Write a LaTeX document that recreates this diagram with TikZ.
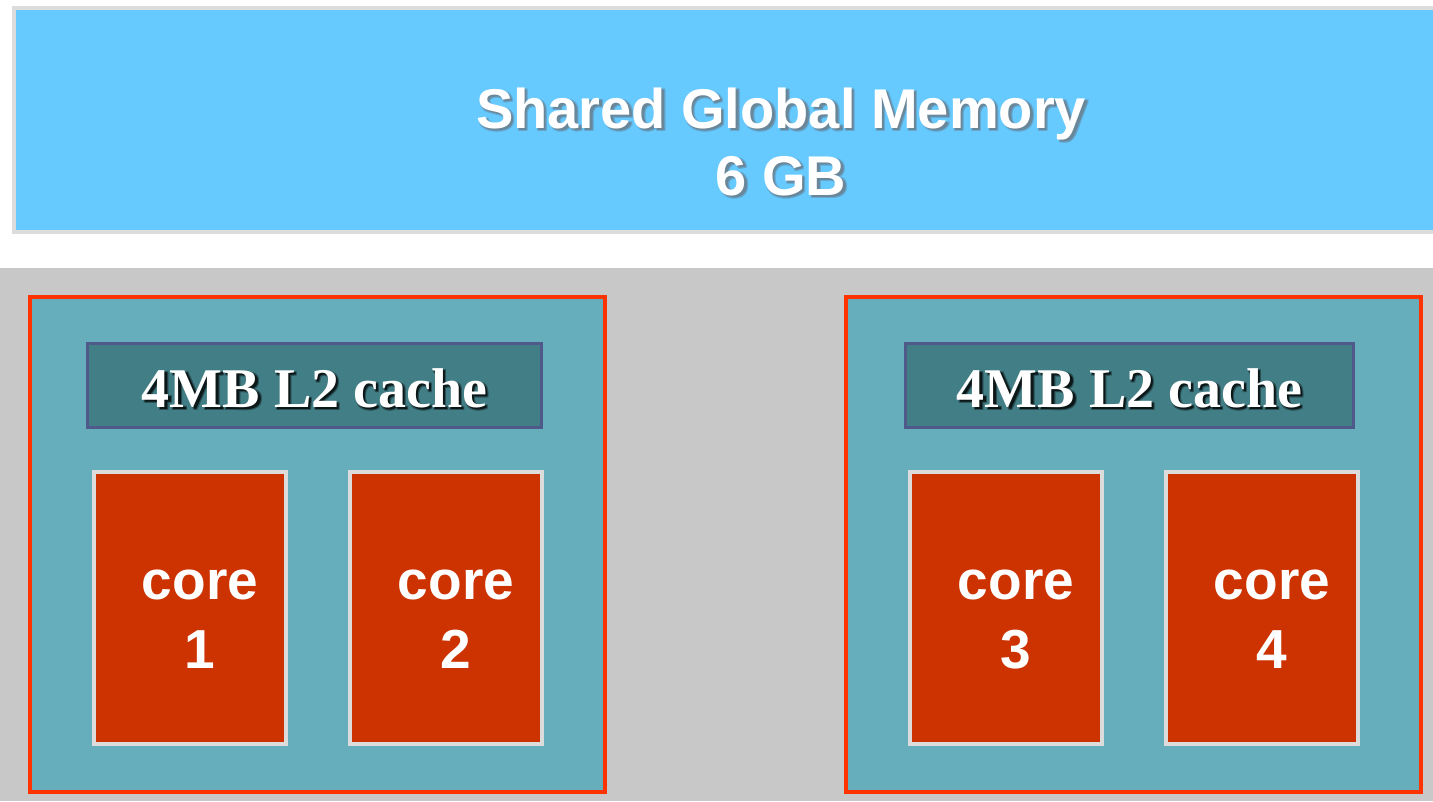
\documentclass[tikz,border=0pt]{standalone}
\usepackage{fontspec}
\setmainfont{Liberation Serif}
\setsansfont{Liberation Sans}
\usetikzlibrary{calc}

\definecolor{memfill}{HTML}{66CAFF}
\definecolor{paleedge}{HTML}{DCDCDC}
\definecolor{boardgray}{HTML}{C8C8C8}
\definecolor{chipteal}{HTML}{66AEBC}
\definecolor{chipedge}{HTML}{FF3300}
\definecolor{cachefill}{HTML}{427E85}
\definecolor{cacheedge}{HTML}{4F5A8A}
\definecolor{corefill}{HTML}{CC3300}
% drop-shadow tones: a faint halo and a darker core
\definecolor{memhalo}{HTML}{62A8D2}
\definecolor{memcore}{HTML}{6A8799}
\definecolor{cachehalo}{HTML}{2A5157}
\definecolor{cachecore}{HTML}{0C1718}

\tikzset{
  box/.style={rectangle, inner sep=0pt, outer sep=0pt},
  membox/.style={box, fill=memfill, draw=paleedge, line width=4pt},
  chipbox/.style={box, fill=chipteal, draw=chipedge, line width=4pt},
  cachebox/.style={box, fill=cachefill, draw=cacheedge, line width=3pt},
  corebox/.style={box, fill=corefill, draw=paleedge, line width=4pt},
  txt/.style={inner sep=0pt, outer sep=0pt, anchor=base, text=white},
  memtext/.style={txt, font=\sffamily\bfseries\fontsize{56}{67}\selectfont},
  cachetext/.style={txt, font=\rmfamily\bfseries\fontsize{56}{67}\selectfont},
  coretext/.style={txt, font=\sffamily\bfseries\fontsize{55}{66}\selectfont},
}

% one shifted copy of a text, drawn behind the text that follows it
\newcommand\shiftcopy[4]{%
  \rlap{\kern#1pt\raisebox{-#2pt}{\textcolor{#3}{#4}}}}
% text with a soft drop shadow: halo colour, core colour, text
\newcommand\softshadow[3]{%
  \shiftcopy{3.5}{3.5}{#1}{#3}\shiftcopy{1.5}{3.5}{#1}{#3}%
  \shiftcopy{3.5}{1.5}{#1}{#3}\shiftcopy{2.5}{2.5}{#2}{#3}#3}

\begin{document}
\begin{tikzpicture}[x=1pt, y=-1pt]
  \clip (0,0) rectangle (1433,801);
  \fill[white] (0,0) rectangle (1433,801);

  % shared global memory bar
  \node[membox, minimum width=1440pt, minimum height=224pt, anchor=north west]
    (mem) at (14,8) {};
  \node[memtext] (memlineA) at (781,128)
    {\softshadow{memhalo}{memcore}{Shared Global Memory}};
  \node[memtext] (memlineB) at (781,195)
    {\softshadow{memhalo}{memcore}{6 GB}};

  % board
  \fill[boardgray] (0,268) rectangle (1433,801);

  % two processor packages
  \node[chipbox, minimum width=575pt, minimum height=495pt, anchor=north west]
    (chipL) at (30,297) {};
  \node[chipbox, minimum width=575pt, minimum height=495pt, anchor=north west]
    (chipR) at (846,297) {};

  % L2 caches
  \node[cachebox, minimum width=454pt, minimum height=84pt, anchor=north west]
    (cacheL) at (87.5,343.5) {};
  \node[cachebox, minimum width=448pt, minimum height=84pt, anchor=north west]
    (cacheR) at (905.5,343.5) {};
  \node[cachetext] (cacheLlabel) at ($(cacheL.center)+(0,21.5)$)
    {\softshadow{cachehalo}{cachecore}{4MB L2 cache}};
  \node[cachetext] (cacheRlabel) at ($(cacheR.center)+(0,21.5)$)
    {\softshadow{cachehalo}{cachecore}{4MB L2 cache}};

  % cores
  \foreach \nm/\xx/\num in {coreA/94/1, coreB/350/2, coreC/910/3, coreD/1166/4} {
    \node[corebox, minimum width=192pt, minimum height=272pt, anchor=north west]
      (\nm) at (\xx,472) {};
    \node[coretext] (\nm word) at ($(\nm.center)+(10,-9)$) {core};
    \node[coretext] (\nm num) at ($(\nm.center)+(10,60)$) {\num};
  }
\end{tikzpicture}
\end{document}
